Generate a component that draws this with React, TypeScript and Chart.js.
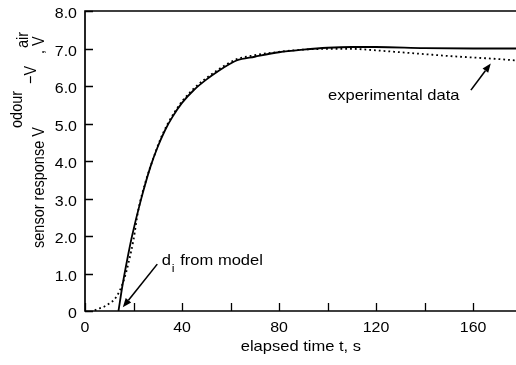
import React, { useEffect, useRef } from "react";
import { Chart, registerables } from "chart.js";

Chart.register(...registerables);

// ---- data ----
const modelT = [13.8, 15.5, 17.5, 19.4, 23, 27, 30, 33, 36, 40, 45, 50, 55, 60, 62.5, 70, 80, 90, 100, 110, 120, 140, 160, 178];
const modelV = [0, 0.7, 1.4, 2.0, 2.95, 3.85, 4.38, 4.82, 5.17, 5.55, 5.9, 6.17, 6.4, 6.6, 6.68, 6.78, 6.9, 6.97, 7.02, 7.04, 7.04, 7.01, 7.0, 7.0];

const expT = [4, 6, 8, 10, 12, 14, 16, 18, 20, 22, 25, 28, 31, 34, 37, 40, 45, 50, 55, 62, 70, 80, 90, 100, 110, 120, 130, 140, 150, 160, 170, 178];
const expV = [0.02, 0.07, 0.12, 0.2, 0.3, 0.5, 0.82, 1.3, 1.9, 2.7, 3.45, 4.04, 4.57, 4.98, 5.31, 5.59, 5.94, 6.21, 6.44, 6.7, 6.82, 6.91, 6.97, 6.99, 6.99, 6.95, 6.9, 6.85, 6.8, 6.76, 6.72, 6.68];

const xTickValues = [0, 20, 40, 60, 80, 100, 120, 140, 160];
const xLabelValues = [0, 40, 80, 120, 160];
const yTickValues = [0, 1, 2, 3, 4, 5, 6, 7, 8];
const yTickLabels = ["0", "1.0", "2.0", "3.0", "4.0", "5.0", "6.0", "7.0", "8.0"];

const xTitle = "elapsed time t, s";
const expLabel = "experimental data";
const modelLabelD = "d";
const modelLabelSub = "i";
const modelLabelRest = " from model";

const FONT = "'Liberation Sans', Arial, Helvetica, sans-serif";
const SX = 1.14;

function txt(ctx: CanvasRenderingContext2D, s: string, x: number, y: number, align: CanvasTextAlign, size: number) {
  ctx.save();
  ctx.translate(x, y);
  ctx.scale(SX, 1);
  ctx.font = `${size}px ${FONT}`;
  ctx.textAlign = align;
  ctx.textBaseline = "alphabetic";
  ctx.fillStyle = "#000";
  ctx.fillText(s, 0, 0);
  ctx.restore();
}

function arrow(ctx: CanvasRenderingContext2D, x0: number, y0: number, x1: number, y1: number) {
  const ang = Math.atan2(y1 - y0, x1 - x0);
  const len = 9, half = 3.5;
  const bx = x1 - len * Math.cos(ang), by = y1 - len * Math.sin(ang);
  ctx.beginPath();
  ctx.moveTo(x0, y0);
  ctx.lineTo(bx, by);
  ctx.lineWidth = 1.6;
  ctx.stroke();
  ctx.beginPath();
  ctx.moveTo(x1, y1);
  ctx.lineTo(bx + half * Math.sin(ang), by - half * Math.cos(ang));
  ctx.lineTo(bx - half * Math.sin(ang), by + half * Math.cos(ang));
  ctx.closePath();
  ctx.fill();
}

const decor = {
  id: "decor",
  afterDraw(chart: any) {
    const { ctx, chartArea: ca, scales } = chart;
    const x = scales.x, y = scales.y;
    ctx.save();
    ctx.strokeStyle = "#000";
    ctx.fillStyle = "#000";
    ctx.lineWidth = 1.7;
    // frame
    ctx.beginPath();
    ctx.moveTo(ca.right, ca.top);
    ctx.lineTo(ca.left, ca.top);
    ctx.lineTo(ca.left, ca.bottom);
    ctx.lineTo(ca.right, ca.bottom);
    ctx.stroke();
    // ticks
    ctx.lineWidth = 1.3;
    ctx.beginPath();
    xTickValues.forEach((v) => {
      const px = Math.round(x.getPixelForValue(v)) + 0.5;
      ctx.moveTo(px, ca.bottom);
      ctx.lineTo(px, ca.bottom - 8);
    });
    yTickValues.forEach((v) => {
      const py = Math.round(y.getPixelForValue(v)) + 0.5;
      ctx.moveTo(ca.left, py);
      ctx.lineTo(ca.left + 8, py);
    });
    ctx.stroke();
    // tick labels
    xLabelValues.forEach((v) => {
      txt(ctx, String(v), x.getPixelForValue(v), ca.bottom + 21, "center", 14);
    });
    yTickValues.forEach((v, i) => {
      txt(ctx, yTickLabels[i], ca.left - 8, y.getPixelForValue(v) + 7, "right", 14);
    });
    // x title
    txt(ctx, xTitle, x.getPixelForValue(89), ca.bottom + 40, "center", 14.5);
    // y title (rotated)
    ctx.save();
    ctx.scale(SX, 1);
    ctx.rotate(-Math.PI / 2);
    ctx.font = `14.5px ${FONT}`;
    ctx.textAlign = "left";
    ctx.textBaseline = "alphabetic";
    const bx = (sx: number) => sx / SX;
    ctx.fillText("sensor response V", -248, bx(44));
    ctx.fillText("odour", -128, bx(22));
    ctx.fillText("\u2212V", -84, bx(36));
    ctx.fillText("air", -48, bx(28));
    ctx.fillText(", V", -54, bx(44));
    ctx.restore();
    // annotations
    txt(ctx, expLabel, x.getPixelForValue(100.2), y.getPixelForValue(5.63), "left", 14.5);
    arrow(ctx, x.getPixelForValue(159.1), y.getPixelForValue(5.89), x.getPixelForValue(167.3), y.getPixelForValue(6.6));
    const dx = x.getPixelForValue(31.6);
    const dy = y.getPixelForValue(1.23);
    txt(ctx, modelLabelD, dx, dy, "left", 14.5);
    txt(ctx, modelLabelSub, dx + 10, dy + 7, "left", 11);
    txt(ctx, modelLabelRest, dx + 14, dy, "left", 14.5);
    arrow(ctx, x.getPixelForValue(29.8), y.getPixelForValue(1.25), x.getPixelForValue(15.6), y.getPixelForValue(0.1));
    ctx.restore();
  },
};

export default function App() {
  const ref = useRef<HTMLCanvasElement>(null);
  useEffect(() => {
    if (!ref.current) return;
    const chart = new Chart(ref.current, {
      type: "line",
      data: {
        datasets: [
          {
            label: "experimental data",
            data: expT.map((t, i) => ({ x: t, y: expV[i] })),
            borderColor: "#000",
            borderWidth: 1.8,
            borderDash: [1.8, 3],
            borderCapStyle: "butt",
            pointRadius: 0,
            cubicInterpolationMode: "monotone",
            fill: false,
          },
          {
            label: "model",
            data: modelT.map((t, i) => ({ x: t, y: modelV[i] })),
            borderColor: "#000",
            borderWidth: 1.8,
            pointRadius: 0,
            cubicInterpolationMode: "monotone",
            fill: false,
          },
        ],
      },
      options: {
        responsive: false,
        animation: false,
        layout: { padding: { left: 85, top: 11, right: 0, bottom: 54 } },
        plugins: { legend: { display: false }, tooltip: { enabled: false } },
        scales: {
          x: { type: "linear", min: 0, max: 177.7, display: false },
          y: { type: "linear", min: 0, max: 8, display: false },
        },
      },
      plugins: [decor],
    });
    return () => chart.destroy();
  }, []);
  return (
    <div style={{ position: "absolute", left: 0, top: 0, width: 516, height: 365, background: "#fff" }}>
      <canvas ref={ref} width={516} height={365} style={{ width: 516, height: 365 }} />
    </div>
  );
}
